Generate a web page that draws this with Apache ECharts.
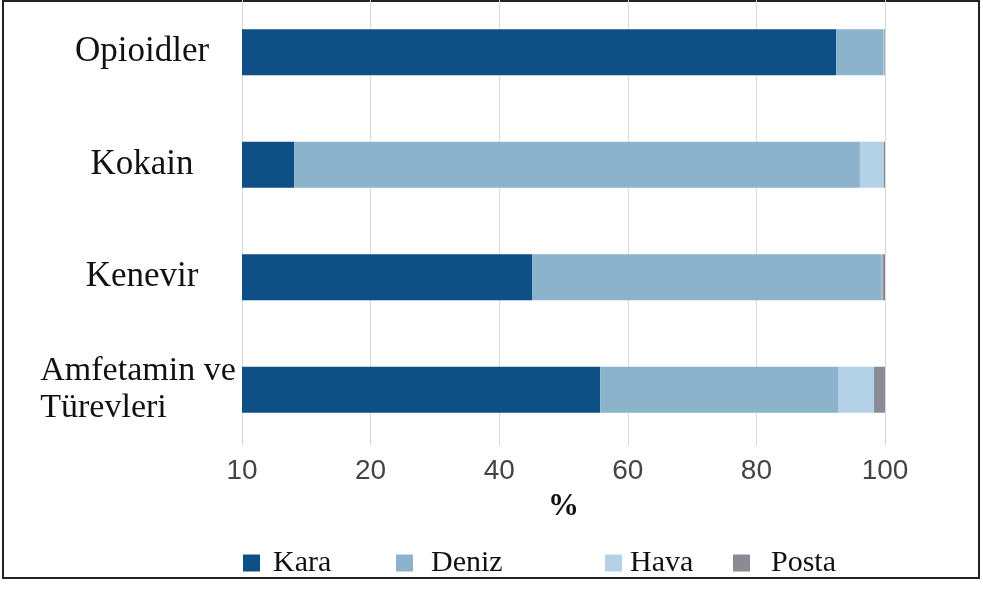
<!DOCTYPE html>
<html>
<head>
<meta charset="utf-8">
<script src="https://cdn.jsdelivr.net/npm/echarts@6/dist/echarts.min.js"></script>
<style>
  html, body { margin: 0; padding: 0; background: #fff; }
  #chart { width: 983px; height: 589px; }
</style>
</head>
<body>
<div id="chart"></div>
<script>
var categories = ['Opioidler', 'Kokain', 'Kenevir', 'Amfetamin ve\nTürevleri'];
var tickLabels = ['10', '20', '40', '60', '80', '100'];

var kara = [92.4, 8.1, 45.1, 55.7];
var deniz = [7.4, 88.0, 54.4, 37.1];
var hava = [0.1, 3.7, 0.1, 5.5];
var posta = [0.1, 0.2, 0.4, 1.7];

var seriesNames = ['Kara', 'Deniz', 'Hava', 'Posta'];
var colors = ['#0e4f85', '#8db3cc', '#b4d2e7', '#8b8b93'];
var values = [kara, deniz, hava, posta];

var chart = echarts.init(document.getElementById('chart'));

// legend entries are spaced unevenly in the picture, so one legend per item
var legendLeft = [238, 391, 600, 728];
var textPad = [8, 13, 3, 16];

chart.setOption({
    animation: false,
    color: colors,
    grid: {
        left: 242,
        right: 98,
        top: -4,
        bottom: 143,
        containLabel: false,
        outerBoundsMode: 'none'
    },
    legend: seriesNames.map(function (name, i) {
        return {
            data: [name],
            left: legendLeft[i],
            top: 543,
            itemWidth: 17,
            itemHeight: 17,
            icon: 'rect',
            textStyle: {
                fontFamily: 'Liberation Serif',
                fontSize: 30,
                color: '#111',
                padding: [0, 0, 0, textPad[i]]
            }
        };
    }),
    xAxis: {
        type: 'value',
        min: 0,
        max: 100,
        interval: 20,
        name: '%',
        nameLocation: 'middle',
        nameGap: 45,
        nameTextStyle: {
            fontFamily: 'Liberation Serif',
            fontWeight: 'bold',
            fontSize: 31,
            color: '#111'
        },
        axisLine: { show: false },
        axisTick: { show: false },
        axisLabel: {
            margin: 11,
            fontFamily: 'Liberation Sans',
            fontSize: 28,
            color: '#444',
            formatter: function (v) {
                return tickLabels[Math.round(v / 20)];
            }
        },
        splitLine: {
            lineStyle: { color: '#d9d9d9', width: 1 }
        }
    },
    yAxis: {
        type: 'category',
        inverse: true,
        data: categories,
        axisLine: { show: false },
        axisTick: { show: false },
        axisLabel: {
            margin: 100,
            align: 'center',
            fontFamily: 'Liberation Serif',
            fontSize: 35,
            color: '#111',
            lineHeight: 38,
            formatter: function (v) {
                if (v.indexOf('\n') >= 0) {
                    return v.split('\n').map(function (s) {
                        return '{l|' + s + '}';
                    }).join('\n');
                }
                return v;
            },
            rich: {
                l: {
                    align: 'left',
                    fontFamily: 'Liberation Serif',
                    fontSize: 34,
                    color: '#111',
                    lineHeight: 37,
                    padding: [0, 8, 0, 0]
                }
            }
        }
    },
    series: seriesNames.map(function (name, i) {
        return {
            name: name,
            type: 'bar',
            stack: 'total',
            barWidth: 46,
            data: values[i]
        };
    }),
    graphic: [{
        type: 'rect',
        silent: true,
        shape: { x: 3, y: 1, width: 976, height: 577 },
        style: { fill: 'none', stroke: '#222', lineWidth: 2 }
    }]
});
</script>
</body>
</html>
